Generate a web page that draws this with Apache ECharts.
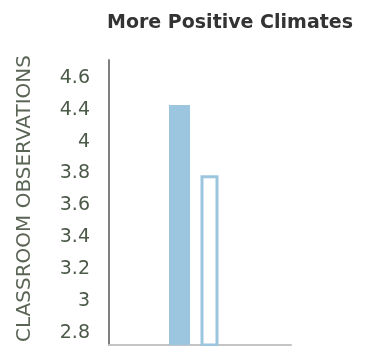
<!DOCTYPE html>
<html>
<head>
<meta charset="utf-8">
<script src="https://cdn.jsdelivr.net/npm/echarts@6.0.0/dist/echarts.min.js"></script>
<style>
  html, body { margin: 0; padding: 0; background: #fff; }
  #main { width: 366px; height: 346px; }
</style>
</head>
<body>
<div id="main"></div>
<script>
// data
const categories = ['']
const filledValues = [4.23]   // solid bar
const outlineValues = [3.79]  // hollow bar
// tick positions and the labels printed at them (the source prints 4.4 / 4.6 at the top two)
const tickValues = [2.8, 3.0, 3.2, 3.4, 3.6, 3.8, 4.0, 4.2, 4.4]
const tickLabels = ['2.8', '3', '3.2', '3.4', '3.6', '3.8', '4', '4.4', '4.6']

const barColor = '#9cc6df'
const labelColor = '#4b5a48'

let chart = echarts.init(document.getElementById('main'))
let option = {
  animation: false,
  title: {
    text: 'More Positive Climates',
    left: 102,
    top: 9,
    textStyle: {
      fontFamily: 'DejaVu Sans',
      fontWeight: 'bold',
      fontSize: 19,
      color: '#333'
    }
  },
  grid: {
    left: 109,
    right: 75,
    top: 60,
    bottom: 1
  },
  xAxis: {
    type: 'category',
    data: categories,
    axisLine: { lineStyle: { color: '#c4c4c4', width: 2 } },
    axisTick: { show: false },
    axisLabel: { show: false }
  },
  yAxis: {
    type: 'value',
    min: 2.725,
    max: 4.512,
    name: 'CLASSROOM OBSERVATIONS',
    nameLocation: 'middle',
    nameGap: 74,
    nameTextStyle: {
      fontFamily: 'DejaVu Sans',
      fontSize: 20,
      color: '#5a6556',
      padding: [0, 0, 0, 8]
    },
    splitLine: { show: false },
    axisTick: { show: false },
    axisLine: { show: true, lineStyle: { color: '#808080', width: 2 } },
    axisLabel: {
      customValues: tickValues,
      margin: 19,
      fontFamily: 'DejaVu Sans',
      fontSize: 19,
      color: labelColor,
      formatter: function (v) {
        let i = Math.round((v - 2.8) / 0.2)
        return tickLabels[i] || ''
      }
    }
  },
  series: [
    {
      type: 'bar',
      data: filledValues,
      barWidth: 21,
      barGap: '50%',
      itemStyle: { color: barColor }
    },
    {
      type: 'bar',
      data: outlineValues,
      barWidth: 18,
      itemStyle: { color: '#fff', borderColor: barColor, borderWidth: 3 }
    },
    {
      // empty slot so the pair sits where it does in the source
      type: 'bar',
      data: [null],
      barWidth: 3.5
    }
  ]
}
chart.setOption(option)
</script>
</body>
</html>
